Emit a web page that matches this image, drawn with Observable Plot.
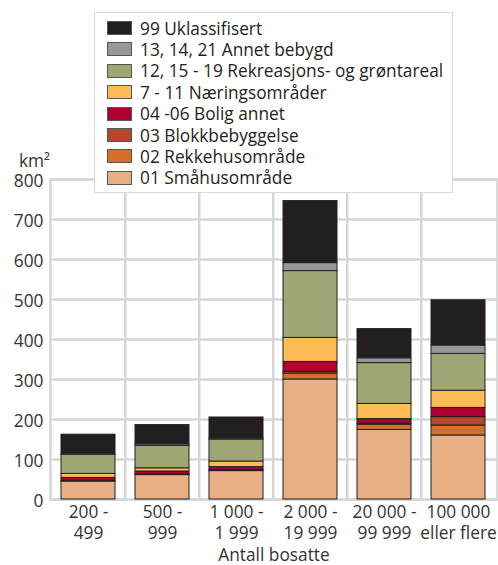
<!DOCTYPE html>
<html>
<head>
<meta charset="utf-8">
<script src="https://cdn.jsdelivr.net/npm/d3@7"></script>
<script src="https://cdn.jsdelivr.net/npm/@observablehq/plot@0.6"></script>
<style>
  body { margin: 0; background: #fff; font-family: "Open Sans", sans-serif; }
  #wrap { position: relative; width: 498px; height: 565px; }
  #legend {
    position: absolute; left: 94px; top: 12px; width: 359px; height: 181px;
    background: #fff; border: 1.5px solid #d9d9d9; box-sizing: border-box;
  }
  .row { position: absolute; left: 12px; height: 20px; display: flex; align-items: center; font-size: 17.3px; color: #231F20; white-space: nowrap; }
  .sw { width: 25px; height: 14px; border: 1px solid #555; margin-right: 8px; box-sizing: border-box; }
</style>
</head>
<body>
<div id="wrap"><div id="chart"></div><div id="legend"></div></div>
<script>
const categories = ["200 - 499", "500 - 999", "1 000 - 1 999", "2 000 - 19 999", "20 000 - 99 999", "100 000 eller flere"];
const tickLabels = ["200 -\n499", "500 -\n999", "1 000 -\n1 999", "2 000 -\n19 999", "20 000 -\n99 999", "100 000\neller flere"];
const seriesNames = ["01 Småhusområde", "02 Rekkehusområde", "03 Blokkbebyggelse", "04 -06 Bolig annet", "7 - 11 Næringsområder", "12, 15 - 19 Rekreasjons- og grøntareal", "13, 14, 21 Annet bebygd", "99 Uklassifisert"];
const seriesColors = ["#E8AE84", "#D4702A", "#B5472E", "#B10034", "#FDBC55", "#9EA673", "#96979B", "#231F20"];
const smahus = [45, 61, 71, 300, 174, 160];
const rekkehus = [1, 1, 2, 15, 13, 25];
const blokk = [1, 1, 1, 4, 3, 21];
const boligAnnet = [7, 7, 7, 25, 11, 23];
const naering = [10, 8, 14, 60, 38, 43];
const rekreasjon = [48, 56, 55, 167, 102, 92];
const annetBebygd = [3, 4, 3, 20, 12, 21];
const uklassifisert = [47, 48, 52, 155, 73, 113];
const yTicks = [0, 100, 200, 300, 400, 500, 600, 700, 800];

const seriesValues = [smahus, rekkehus, blokk, boligAnnet, naering, rekreasjon, annetBebygd, uklassifisert];
const data = [];
seriesNames.forEach((s, si) => categories.forEach((c, ci) => data.push({cat: c, series: s, value: seriesValues[si][ci]})));

const W = 498, H = 565, mL = 50, mR = 1;
const step = (W - mL - mR) / categories.length;
const grid = "#d6d6d6";
const fs = 17.3;

const plot = Plot.plot({
  width: W, height: H,
  marginLeft: mL, marginRight: mR, marginTop: 179, marginBottom: 66,
  style: {fontFamily: "Open Sans, sans-serif", fontSize: fs + "px", color: "#333"},
  x: {domain: categories, paddingInner: 0.27, paddingOuter: 0.135, axis: null},
  y: {domain: [0, 800], ticks: yTicks, axis: null},
  color: {domain: seriesNames, range: seriesColors},
  marks: [
    Plot.gridY(yTicks, {stroke: grid, strokeOpacity: 1, strokeWidth: 2.5}),
    Plot.ruleX(categories.slice(1), {x: d => d, dx: -step / 2, stroke: grid, strokeWidth: 2.5}),
    Plot.frame({stroke: grid, strokeWidth: 2.5}),
    Plot.axisY(yTicks, {tickSize: 0, tickPadding: 7, fontSize: fs, label: null, fill: "#333", dy: 2}),
    Plot.barY(data, Plot.stackY({x: "cat", y: "value", fill: "series", order: seriesNames, stroke: "#231F20", strokeWidth: 1})),
    Plot.text(categories, {x: d => d, text: (d, i) => tickLabels[i], frameAnchor: "bottom", lineAnchor: "top", dy: 3, lineHeight: 1.25, fontSize: fs, fill: "#333"}),
    Plot.text(["Antall bosatte"], {frameAnchor: "bottom", lineAnchor: "top", dy: 49, fontSize: fs, fill: "#333"}),
    Plot.text(["km²"], {frameAnchor: "top-left", textAnchor: "middle", dx: -16, dy: -25, fontSize: fs, fill: "#333"})
  ]
});
document.getElementById("chart").appendChild(plot);

const legend = document.getElementById("legend");
const order = seriesNames.map((n, i) => i).reverse();
order.forEach((si, r) => {
  const row = document.createElement("div");
  row.className = "row";
  row.style.top = (5 + r * 21.4) + "px";
  const sw = document.createElement("div");
  sw.className = "sw";
  sw.style.background = seriesColors[si];
  row.appendChild(sw);
  const t = document.createElement("span");
  t.textContent = seriesNames[si];
  row.appendChild(t);
  legend.appendChild(row);
});
</script>
</body>
</html>
